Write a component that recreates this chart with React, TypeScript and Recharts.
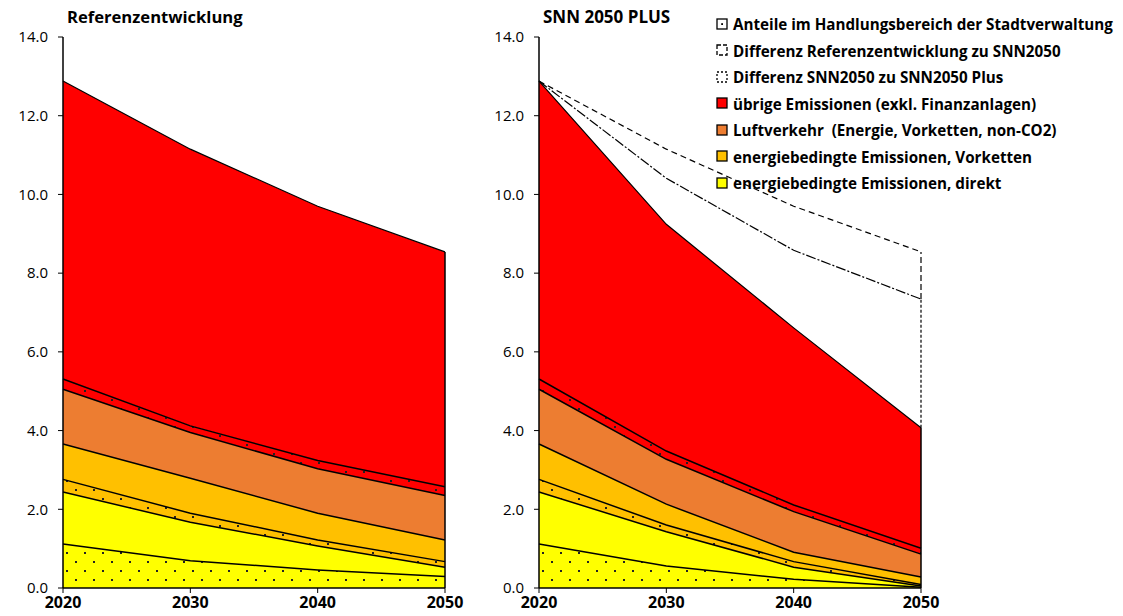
import React from "react";
import { ComposedChart, Area, Line, XAxis, YAxis, ReferenceLine } from "recharts";

const years = [2020, 2030, 2040, 2050];
const yTicks = [0, 2, 4, 6, 8, 10, 12, 14];

// Referenzentwicklung (layer thicknesses, bottom to top)
const refDirektHB = [1.12, 0.69, 0.46, 0.29];
const refDirektRest = [1.32, 0.98, 0.61, 0.24];
const refVorkettenHB = [0.32, 0.23, 0.15, 0.14];
const refVorkettenRest = [0.9, 0.89, 0.68, 0.55];
const refLuft = [1.39, 1.16, 1.13, 1.13];
const refUebrigeHB = [0.26, 0.17, 0.21, 0.22];
const refUebrigeRest = [7.57, 7.03, 6.46, 5.97];

// SNN 2050 PLUS
const plusDirektHB = [1.12, 0.56, 0.22, 0.02];
const plusDirektRest = [1.32, 0.87, 0.31, 0.03];
const plusVorkettenHB = [0.32, 0.17, 0.14, 0.04];
const plusVorkettenRest = [0.9, 0.53, 0.24, 0.19];
const plusLuft = [1.39, 1.14, 1.03, 0.58];
const plusUebrigeHB = [0.26, 0.21, 0.17, 0.15];
const plusUebrigeRest = [7.57, 5.76, 4.5, 3.06];
const diffSnnToPlus = [0, 1.17, 1.97, 3.27];
const diffRefToSnn = [0, 0.74, 1.12, 1.2];

const legendItems = [
  "Anteile im Handlungsbereich der Stadtverwaltung",
  "Differenz Referenzentwicklung zu SNN2050",
  "Differenz SNN2050 zu SNN2050 Plus",
  "übrige Emissionen (exkl. Finanzanlagen)",
  "Luftverkehr  (Energie, Vorketten, non-CO2)",
  "energiebedingte Emissionen, Vorketten",
  "energiebedingte Emissionen, direkt",
];

const RED = "#FF0000";
const ORANGE = "#ED7D31";
const GOLD = "#FFC000";
const YELLOW = "#FFFF00";
const FONT = "'Open Sans', sans-serif";

type Layers = number[][];

function buildRows(layers: Layers, diffs: Layers) {
  return years.map((year, i) => {
    const row: any = { year };
    let cum = 0;
    layers.forEach((arr, k) => {
      row["l" + k] = arr[i];
      cum += arr[i];
      row["c" + k] = +cum.toFixed(3);
    });
    diffs.forEach((arr, k) => {
      row["d" + k] = arr[i];
      cum += arr[i];
      row["dc" + k] = +cum.toFixed(3);
    });
    return row;
  });
}

const fills = ["url(#dotY)", YELLOW, "url(#dotG)", GOLD, ORANGE, "url(#dotR)", RED];

function Patterns() {
  const mk = (id: string, bg: string) => (
    <pattern id={id} width={18} height={18} patternUnits="userSpaceOnUse">
      <rect width={18} height={18} fill={bg} />
      <rect x={3} y={3} width={2} height={2} fill="#222" />
      <rect x={12} y={12} width={2} height={2} fill="#222" />
    </pattern>
  );
  return (
    <defs>
      {mk("dotY", YELLOW)}
      {mk("dotG", GOLD)}
      {mk("dotR", RED)}
    </defs>
  );
}

function Panel({ rows, nLayers, nDiffs }: { rows: any[]; nLayers: number; nDiffs: number }) {
  const last = rows[rows.length - 1];
  const topSolid = last["c" + (nLayers - 1)];
  const diffTops = Array.from({ length: nDiffs }, (_, k) => last["dc" + k]);
  const vDash = ["3 2", "6 3"];
  return (
    <ComposedChart width={470} height={616} data={rows} margin={{ top: 37, right: 25, bottom: 0, left: 13 }}>
      <Patterns />
      {Array.from({ length: nLayers }, (_, k) => (
        <Area
          key={"a" + k}
          type="linear"
          dataKey={"l" + k}
          stackId="s"
          fill={fills[k]}
          fillOpacity={1}
          stroke="none"
          isAnimationActive={false}
        />
      ))}
      {Array.from({ length: nDiffs }, (_, k) => (
        <Area
          key={"d" + k}
          type="linear"
          dataKey={"d" + k}
          stackId="s"
          fill="none"
          stroke="none"
          isAnimationActive={false}
        />
      ))}
      {Array.from({ length: nLayers }, (_, k) => (
        <Line
          key={"c" + k}
          type="linear"
          dataKey={"c" + k}
          stroke="#000"
          strokeWidth={k === nLayers - 1 ? 1.2 : 1.5}
          dot={false}
          isAnimationActive={false}
        />
      ))}
      {Array.from({ length: nDiffs }, (_, k) => (
        <Line
          key={"dc" + k}
          type="linear"
          dataKey={"dc" + k}
          stroke="#000"
          strokeWidth={1.2}
          strokeDasharray={k === nDiffs - 1 ? "6 4" : "10 2 2 2"}
          dot={false}
          isAnimationActive={false}
        />
      ))}
      <ReferenceLine
        segment={[
          { x: 2050, y: 0 },
          { x: 2050, y: topSolid },
        ]}
        stroke="#000"
        strokeWidth={1.5}
      />
      {diffTops.map((t, k) => (
        <ReferenceLine
          key={"v" + k}
          segment={[
            { x: 2050, y: k === 0 ? topSolid : diffTops[k - 1] },
            { x: 2050, y: t },
          ]}
          stroke="#000"
          strokeWidth={1.2}
          strokeDasharray={vDash[k]}
        />
      ))}
      <XAxis
        type="number"
        dataKey="year"
        domain={[2020, 2050]}
        ticks={years}
        height={28}
        axisLine={{ stroke: "#000", strokeWidth: 1.5 }}
        tickLine={{ stroke: "#000" }}
        tickSize={5}
        tick={{ fill: "#000", fontFamily: FONT, fontWeight: 700, fontSize: 16 }}
        tickMargin={4}
      />
      <YAxis
        type="number"
        domain={[0, 14]}
        ticks={yTicks}
        width={50}
        axisLine={{ stroke: "#000", strokeWidth: 1.5 }}
        tickLine={{ stroke: "#000" }}
        tickSize={5}
        tickMargin={10}
        tickFormatter={(v: number) => v.toFixed(1)}
        tick={{ fill: "#000", fontFamily: FONT, fontSize: 15 }}
        interval={0}
      />
    </ComposedChart>
  );
}

function LegendIcon({ i }: { i: number }) {
  const fillsL = ["#fff", "#fff", "#fff", RED, ORANGE, GOLD, YELLOW];
  const dash = [undefined, "4 2", "2 2", undefined, undefined, undefined, undefined];
  return (
    <svg width={13} height={13} style={{ display: "block" }}>
      <rect x={1} y={1} width={10} height={10} fill={fillsL[i]} stroke="#000" strokeWidth={1.3} strokeDasharray={dash[i]} />
      {i === 0 && <rect x={5.2} y={5.2} width={1.8} height={1.8} fill="#000" />}
    </svg>
  );
}

export default function App() {
  const refRows = buildRows(
    [refDirektHB, refDirektRest, refVorkettenHB, refVorkettenRest, refLuft, refUebrigeHB, refUebrigeRest],
    []
  );
  const plusRows = buildRows(
    [plusDirektHB, plusDirektRest, plusVorkettenHB, plusVorkettenRest, plusLuft, plusUebrigeHB, plusUebrigeRest],
    [diffSnnToPlus, diffRefToSnn]
  );
  return (
    <div style={{ position: "absolute", left: 0, top: 0, width: 1123, height: 616, background: "#fff", fontFamily: FONT }}>
      <div style={{ position: "absolute", left: 0, top: 0 }}>
        <Panel rows={refRows} nLayers={7} nDiffs={0} />
      </div>
      <div style={{ position: "absolute", left: 476, top: 0 }}>
        <Panel rows={plusRows} nLayers={7} nDiffs={2} />
      </div>
      <div style={{ position: "absolute", left: 67, top: 6, fontWeight: 700, fontSize: 16.6, lineHeight: "22px" }}>
        Referenzentwicklung
      </div>
      <div style={{ position: "absolute", left: 543, top: 6, fontWeight: 700, fontSize: 17, lineHeight: "22px" }}>
        SNN 2050 PLUS
      </div>
      {legendItems.map((t, i) => (
        <div
          key={i}
          style={{
            position: "absolute",
            left: 716,
            top: 14 + i * 26.5,
            height: 20,
            display: "flex",
            alignItems: "center",
            fontWeight: 700,
            fontSize: 15.2,
            whiteSpace: "pre",
          }}
        >
          <LegendIcon i={i} />
          <span style={{ marginLeft: 4 }}>{t}</span>
        </div>
      ))}
    </div>
  );
}
